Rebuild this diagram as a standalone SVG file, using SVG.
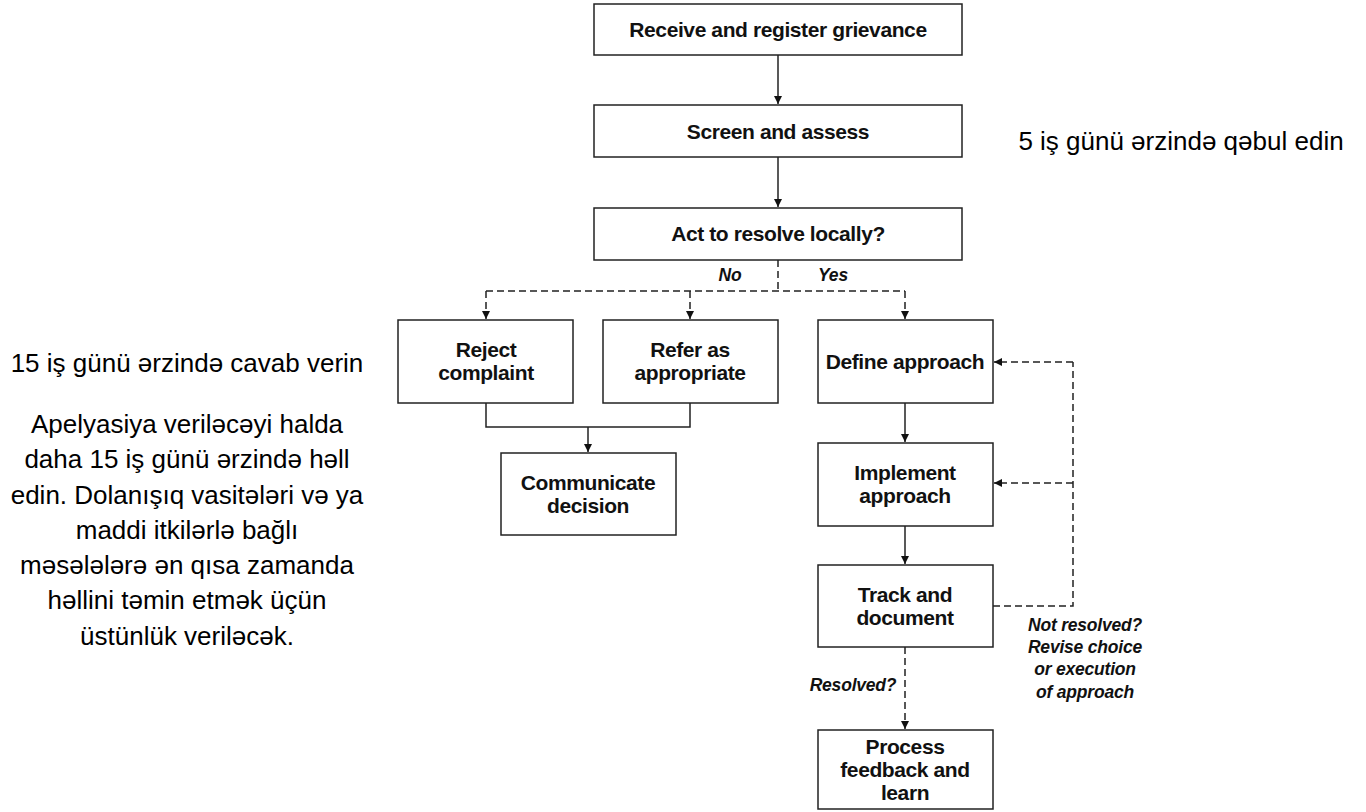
<svg xmlns="http://www.w3.org/2000/svg" width="1366" height="812" viewBox="0 0 1366 812">
<style>
.box{fill:#fff;stroke:#222;stroke-width:1.5}
.nt{font-family:"Liberation Sans",Arial,sans-serif;font-weight:bold;font-size:21px;fill:#111;text-anchor:middle;letter-spacing:-0.4px}
.lb{font-family:"Liberation Sans",Arial,sans-serif;font-weight:bold;font-style:italic;font-size:17.5px;fill:#111;text-anchor:middle;letter-spacing:-0.2px}
.side{font-family:"Liberation Sans",Arial,sans-serif;font-size:26px;fill:#000;text-anchor:middle}
.ln{fill:none;stroke:#222;stroke-width:1.5}
.dl{fill:none;stroke:#222;stroke-width:1.5;stroke-dasharray:7,4}
</style>
<defs>
<marker id="ah" markerWidth="10" markerHeight="10" refX="9" refY="5" orient="auto" markerUnits="userSpaceOnUse">
<path d="M1,1 L9,5 L1,9 Z" fill="#111"/>
</marker>
</defs>
<rect width="1366" height="812" fill="#fff"/>

<g id="connectors">
<line class="ln" x1="778" y1="55" x2="778" y2="104" marker-end="url(#ah)"/>
<line class="ln" x1="778" y1="157" x2="778" y2="207" marker-end="url(#ah)"/>
<polyline class="dl" points="778,260 778,291"/>
<polyline class="dl" points="486,291 905,291"/>
<line class="dl" x1="486" y1="291" x2="486" y2="319" marker-end="url(#ah)"/>
<line class="dl" x1="690" y1="291" x2="690" y2="319" marker-end="url(#ah)"/>
<line class="dl" x1="905" y1="291" x2="905" y2="319" marker-end="url(#ah)"/>
<polyline class="ln" points="486,403 486,427 690,427 690,403"/>
<line class="ln" x1="588" y1="427" x2="588" y2="452" marker-end="url(#ah)"/>
<line class="ln" x1="905" y1="403" x2="905" y2="442" marker-end="url(#ah)"/>
<line class="ln" x1="905" y1="526" x2="905" y2="564" marker-end="url(#ah)"/>
<polyline class="dl" points="993,606 1073,606 1073,362"/>
<line class="dl" x1="1073" y1="362" x2="994" y2="362" marker-end="url(#ah)"/>
<line class="dl" x1="1073" y1="483" x2="994" y2="483" marker-end="url(#ah)"/>
<line class="dl" x1="905" y1="647" x2="905" y2="729" marker-end="url(#ah)"/>
<text class="lb" x="730" y="281">No</text>
<text class="lb" x="833" y="281">Yes</text>
<text class="lb" x="853" y="691">Resolved?</text>
<text class="lb" x="1085" y="631">Not resolved?</text>
<text class="lb" x="1085" y="653">Revise choice</text>
<text class="lb" x="1085" y="675">or execution</text>
<text class="lb" x="1085" y="698">of approach</text>
</g>

<g id="n-receive"><rect class="box" x="594" y="4" width="368" height="51"/><text class="nt" x="778" y="37">Receive and register grievance</text></g>
<g id="n-screen"><rect class="box" x="594" y="105" width="368" height="52"/><text class="nt" x="778" y="139">Screen and assess</text></g>
<g id="n-act"><rect class="box" x="594" y="208" width="368" height="52"/><text class="nt" x="778" y="241">Act to resolve locally?</text></g>
<g id="n-reject"><rect class="box" x="398" y="320" width="175" height="83"/><text class="nt" x="486" y="357">Reject</text><text class="nt" x="486" y="380">complaint</text></g>
<g id="n-refer"><rect class="box" x="603" y="320" width="175" height="83"/><text class="nt" x="690" y="357">Refer as</text><text class="nt" x="690" y="380">appropriate</text></g>
<g id="n-communicate"><rect class="box" x="501" y="453" width="175" height="82"/><text class="nt" x="588" y="490">Communicate</text><text class="nt" x="588" y="513">decision</text></g>
<g id="n-define"><rect class="box" x="818" y="320" width="175" height="83"/><text class="nt" x="905" y="369">Define approach</text></g>
<g id="n-implement"><rect class="box" x="818" y="443" width="175" height="83"/><text class="nt" x="905" y="480">Implement</text><text class="nt" x="905" y="503">approach</text></g>
<g id="n-track"><rect class="box" x="818" y="565" width="175" height="82"/><text class="nt" x="905" y="602">Track and</text><text class="nt" x="905" y="625">document</text></g>
<g id="n-process"><rect class="box" x="818" y="730" width="175" height="79"/><text class="nt" x="905" y="754">Process</text><text class="nt" x="905" y="777">feedback and</text><text class="nt" x="905" y="800">learn</text></g>

<g id="side-notes">
<text class="side" x="1181" y="150">5 iş günü ərzində qəbul edin</text>
<text class="side" x="187" y="372">15 iş günü ərzində cavab verin</text>
<text class="side" x="187" y="433">Apelyasiya veriləcəyi halda</text>
<text class="side" x="187" y="468">daha 15 iş günü ərzində həll</text>
<text class="side" x="187" y="504">edin. Dolanışıq vasitələri və ya</text>
<text class="side" x="187" y="539">maddi itkilərlə bağlı</text>
<text class="side" x="187" y="574">məsələlərə ən qısa zamanda</text>
<text class="side" x="187" y="609">həllini təmin etmək üçün</text>
<text class="side" x="187" y="645">üstünlük veriləcək.</text>
</g>
</svg>
